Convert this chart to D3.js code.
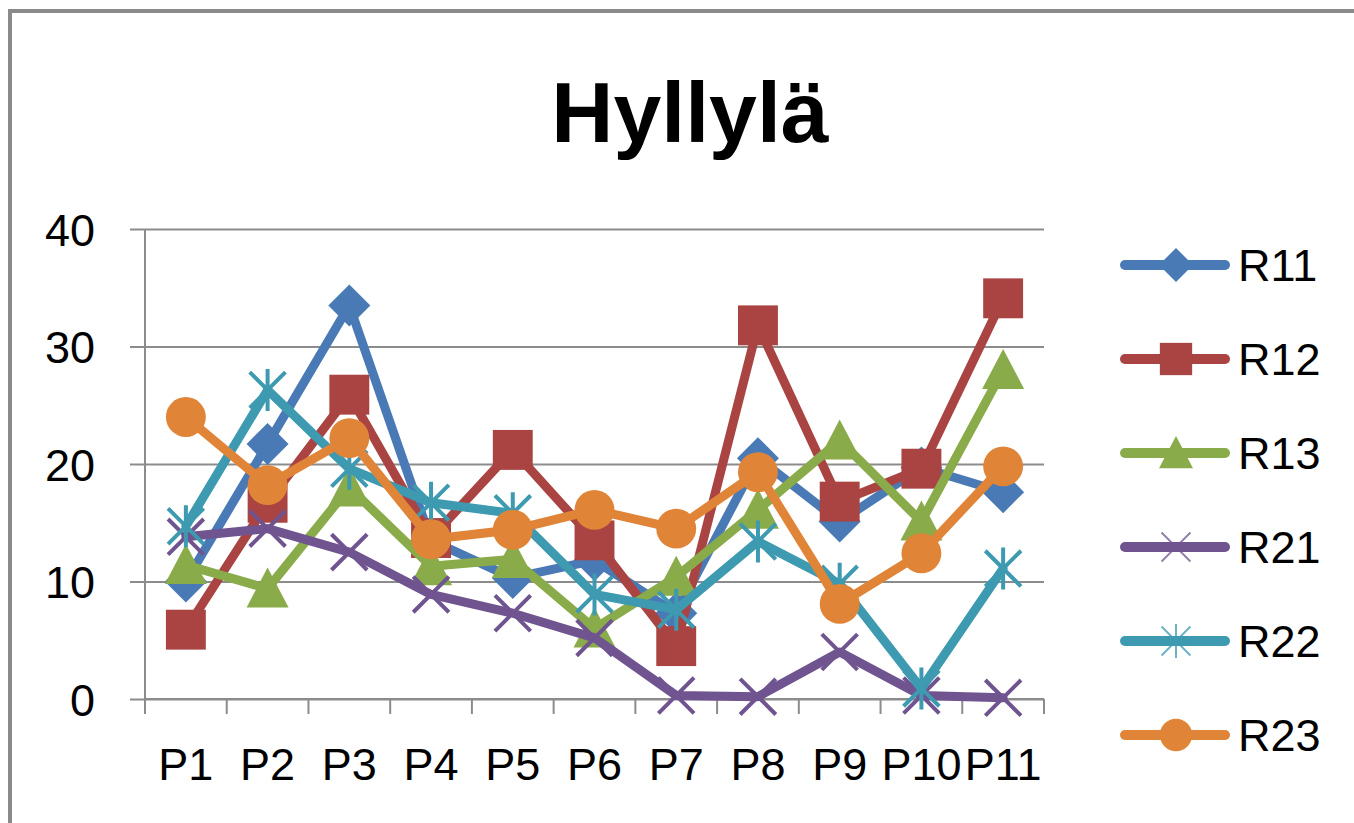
<!DOCTYPE html>
<html>
<head>
<meta charset="utf-8">
<title>Hyllylä</title>
<script src="https://cdn.jsdelivr.net/npm/d3@7"></script>
<style>
  html, body { margin: 0; padding: 0; background: #fff; }
  svg { display: block; font-family: 'Liberation Sans', Arial, sans-serif; }
</style>
</head>
<body>
<svg id="chart"></svg>
<script>
// Chart values
var categories = ['P1', 'P2', 'P3', 'P4', 'P5', 'P6', 'P7', 'P8', 'P9', 'P10', 'P11'];
var yTicks = [0, 10, 20, 30, 40];
var seriesNames = ['R11', 'R12', 'R13', 'R21', 'R22', 'R23'];
var r11 = [10, 21.7, 33.5, 13.5, 10.3, 11.8, 7.3, 20.5, 15.1, 19.7, 17.6];
var r12 = [5.9, 16.7, 25.9, 13.7, 21.2, 13.5, 4.5, 31.8, 16.8, 19.6, 34.1];
var r13 = [11.4, 9.4, 18, 11.3, 11.9, 6, 10.4, 16.1, 22, 15.1, 28];
var r21 = [13.8, 14.5, 12.5, 8.9, 7.3, 5.2, 0.3, 0.2, 4.0, 0.3, 0.1];
var r22 = [14.7, 26.3, 19.6, 16.7, 15.8, 8.9, 7.6, 13.4, 9.8, 0.9, 11.1];
var r23 = [24.0, 18.2, 22.2, 13.6, 14.4, 16.1, 14.5, 19.3, 8.1, 12.4, 19.8];

var seriesValues = [r11, r12, r13, r21, r22, r23];
var colors = ['#4a7ab5', '#a94442', '#8aab4a', '#6f5490', '#3d9ab0', '#e08438'];
var markerTypes = ['diamond', 'square', 'triangle', 'cross', 'star', 'circle'];

var width = 1354;
var height = 823;
// plot area edges (note: "top" is a reserved window property)
var plotLeft = 145, plotRight = 1044, plotTop = 229, plotBottom = 699;

var svg = d3.select('#chart')
  .attr('width', width)
  .attr('height', height);

// outer frame, runs off the right and bottom edges like the original
svg.append('rect')
  .attr('x', 10)
  .attr('y', 11)
  .attr('width', 1500)
  .attr('height', 1000)
  .attr('fill', '#fff')
  .attr('stroke', '#8a8a8a')
  .attr('stroke-width', 4);

svg.append('text')
  .attr('x', 690)
  .attr('y', 142)
  .attr('text-anchor', 'middle')
  .attr('font-size', 86)
  .attr('font-weight', 'bold')
  .attr('fill', '#000')
  .text('Hyllylä');

var x = d3.scaleBand()
  .domain(categories)
  .range([plotLeft, plotRight])
  .padding(0);

var y = d3.scaleLinear()
  .domain([0, 40])
  .range([plotBottom, plotTop]);

function cx(i) { return x(categories[i]) + x.bandwidth() / 2; }

// y axis with gridlines
var yAxis = svg.append('g')
  .attr('transform', 'translate(' + plotLeft + ',0)')
  .call(d3.axisLeft(y).tickValues(yTicks).tickSize(0).tickPadding(50));

yAxis.select('.domain').remove();
yAxis.selectAll('.tick line')
  .attr('x1', -15)
  .attr('x2', plotRight - plotLeft)
  .attr('stroke', '#8c8c8c')
  .attr('stroke-width', 2);
yAxis.selectAll('.tick text')
  .attr('font-size', 45)
  .attr('font-family', 'Liberation Sans, Arial, sans-serif')
  .attr('fill', '#000')
  .attr('dy', 16);

svg.append('line')
  .attr('x1', plotLeft).attr('x2', plotLeft)
  .attr('y1', plotTop).attr('y2', plotBottom)
  .attr('stroke', '#8c8c8c')
  .attr('stroke-width', 2);

// x axis: labels centred in bands, ticks on band edges
var xAxis = svg.append('g')
  .attr('transform', 'translate(0,' + plotBottom + ')')
  .call(d3.axisBottom(x).tickSize(0));

xAxis.select('.domain').remove();
xAxis.selectAll('.tick text')
  .attr('font-size', 45)
  .attr('font-family', 'Liberation Sans, Arial, sans-serif')
  .attr('fill', '#000')
  .attr('y', 81)
  .attr('dy', 0);

var edges = categories.map(function (c) { return x(c); }).concat([plotRight]);
svg.append('g').selectAll('line')
  .data(edges)
  .enter().append('line')
    .attr('x1', function (d) { return d; })
    .attr('x2', function (d) { return d; })
    .attr('y1', plotBottom)
    .attr('y2', plotBottom + 15)
    .attr('stroke', '#8c8c8c')
    .attr('stroke-width', 2);

svg.append('line')
  .attr('x1', plotLeft).attr('x2', plotRight)
  .attr('y1', plotBottom).attr('y2', plotBottom)
  .attr('stroke', '#8c8c8c')
  .attr('stroke-width', 2);

// marker drawing, r = half size
function drawMarker(g, type, px, py, r, color, thin) {
  if (type === 'diamond') {
    g.append('path')
      .attr('d', 'M' + px + ',' + (py - r) + 'L' + (px + r) + ',' + py + 'L' + px + ',' + (py + r) + 'L' + (px - r) + ',' + py + 'Z')
      .attr('fill', color);
  } else if (type === 'square') {
    g.append('rect')
      .attr('x', px - r * 0.95).attr('y', py - r * 0.95)
      .attr('width', r * 1.9).attr('height', r * 1.9)
      .attr('fill', color);
  } else if (type === 'triangle') {
    g.append('path')
      .attr('d', 'M' + px + ',' + (py - r) + 'L' + (px + r) + ',' + (py + r * 0.9) + 'L' + (px - r) + ',' + (py + r * 0.9) + 'Z')
      .attr('fill', color);
  } else if (type === 'circle') {
    g.append('circle')
      .attr('cx', px).attr('cy', py)
      .attr('r', r * 0.95)
      .attr('fill', color);
  } else {
    var s = r * 0.85;
    var d = 'M' + (px - s) + ',' + (py - s) + 'L' + (px + s) + ',' + (py + s) +
            'M' + (px - s) + ',' + (py + s) + 'L' + (px + s) + ',' + (py - s);
    if (type === 'star') {
      d += 'M' + px + ',' + (py - r) + 'L' + px + ',' + (py + r);
    }
    g.append('path')
      .attr('d', d)
      .attr('fill', 'none')
      .attr('stroke', color)
      .attr('stroke-width', thin ? 2 : 4)
      .attr('stroke-opacity', thin ? 0.75 : 1);
  }
}

var line = d3.line()
  .x(function (d, i) { return cx(i); })
  .y(function (d) { return y(d); });

seriesValues.forEach(function (values, s) {
  var g = svg.append('g').attr('class', 'series-' + seriesNames[s]);
  g.append('path')
    .datum(values)
    .attr('d', line)
    .attr('fill', 'none')
    .attr('stroke', colors[s])
    .attr('stroke-width', 9)
    .attr('stroke-linejoin', 'round')
    .attr('stroke-linecap', 'round');
  values.forEach(function (v, i) {
    drawMarker(g, markerTypes[s], cx(i), y(v), 21, colors[s], false);
  });
});

// legend
var legendY = d3.scalePoint()
  .domain(seriesNames)
  .range([265, 735]);

seriesNames.forEach(function (name, s) {
  var ly = legendY(name);
  var g = svg.append('g').attr('class', 'legend');
  g.append('line')
    .attr('x1', 1125).attr('x2', 1225)
    .attr('y1', ly).attr('y2', ly)
    .attr('stroke', colors[s])
    .attr('stroke-width', 10)
    .attr('stroke-linecap', 'round');
  drawMarker(g, markerTypes[s], 1176, ly, 17, colors[s], true);
  g.append('text')
    .attr('x', 1238)
    .attr('y', ly + 16)
    .attr('font-size', 45)
    .attr('fill', '#000')
    .text(name);
});
</script>
</body>
</html>
